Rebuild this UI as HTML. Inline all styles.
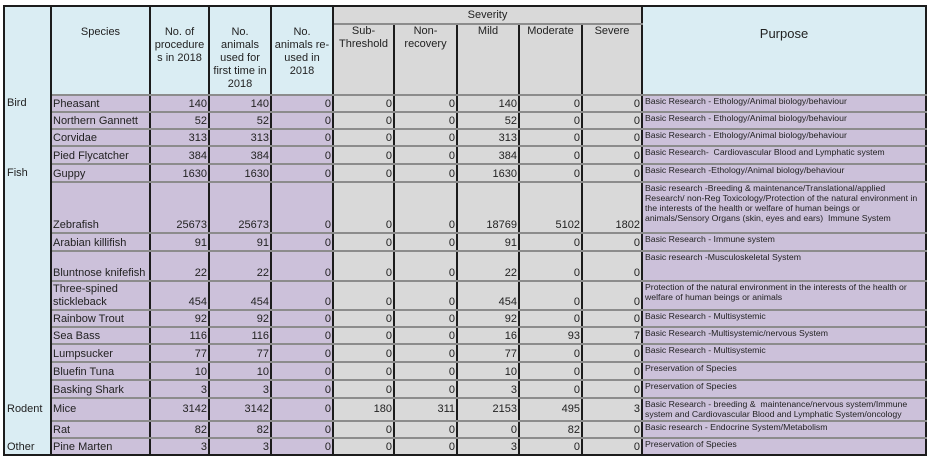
<!DOCTYPE html>
<html><head><meta charset="utf-8"><style>
html,body{margin:0;padding:0;background:#fff;width:930px;height:460px;overflow:hidden}
table{position:absolute;left:3px;top:5px;border-collapse:collapse;table-layout:fixed;font-family:"Liberation Sans",Arial,sans-serif;font-size:11px;color:#222}
td{padding:0 1px;overflow:hidden;white-space:nowrap;vertical-align:bottom;border-right:2px solid #1c1c1c;border-bottom:2px solid #8c8c8c;line-height:13px}
td.c{background:#daedf3;border-bottom:none;border-left:2px solid #1c1c1c;padding-left:2px}
td.p{background:#ccc1da}
td.g{background:#d9d9d9;text-align:right}
td.n{text-align:right}
td.u{background:#ccc1da;font-size:8.7px;line-height:10px;white-space:normal;vertical-align:top;padding-left:2px;border-left:1px solid #555;border-right:2px solid #1c1c1c}
td.h{background:#daedf3;text-align:center;vertical-align:top;white-space:normal;padding-top:19px}
td.sh{background:#d9d9d9;text-align:center;vertical-align:top;white-space:normal}
tr.top td{border-top:2px solid #1c1c1c}
tr.last td{border-bottom:2px solid #1c1c1c}
</style></head><body>
<table>
<colgroup><col style="width:47px"><col style="width:99px"><col style="width:59px"><col style="width:62px"><col style="width:62px"><col style="width:61px"><col style="width:63px"><col style="width:62px"><col style="width:63px"><col style="width:60px"><col style="width:284px"></colgroup>
<tr class="top" style="height:18px">
<td class="c" rowspan="2" style="border-top:2px solid #1c1c1c"></td>
<td class="h" rowspan="2" style="border-bottom:2px solid #8c8c8c">Species</td>
<td class="h" rowspan="2" style="border-bottom:2px solid #8c8c8c">No. of procedure s in 2018</td>
<td class="h" rowspan="2" style="border-bottom:2px solid #8c8c8c">No. animals used for first time in 2018</td>
<td class="h" rowspan="2" style="border-bottom:2px solid #8c8c8c">No. animals re-used in 2018</td>
<td class="sh" colspan="5" style="vertical-align:middle">Severity</td>
<td class="h" rowspan="2" style="font-size:13px;padding-top:20px;border-bottom:2px solid #8c8c8c">Purpose</td>
</tr>
<tr style="height:71px">
<td class="sh">Sub-<br>Threshold</td><td class="sh">Non-<br>recovery</td><td class="sh">Mild</td><td class="sh">Moderate</td><td class="sh">Severe</td>
</tr>
<tr style="height:17px"><td class="c" style="vertical-align:middle">Bird</td><td class="p">Pheasant</td><td class="p n">140</td><td class="p n">140</td><td class="p n">0</td><td class="g">0</td><td class="g">0</td><td class="g">140</td><td class="g">0</td><td class="g">0</td><td class="u">Basic Research - Ethology/Animal biology/behaviour</td></tr>
<tr style="height:17px"><td class="c"></td><td class="p">Northern Gannett</td><td class="p n">52</td><td class="p n">52</td><td class="p n">0</td><td class="g">0</td><td class="g">0</td><td class="g">52</td><td class="g">0</td><td class="g">0</td><td class="u">Basic Research - Ethology/Animal biology/behaviour</td></tr>
<tr style="height:17px"><td class="c"></td><td class="p">Corvidae</td><td class="p n">313</td><td class="p n">313</td><td class="p n">0</td><td class="g">0</td><td class="g">0</td><td class="g">313</td><td class="g">0</td><td class="g">0</td><td class="u">Basic Research - Ethology/Animal biology/behaviour</td></tr>
<tr style="height:18px"><td class="c"></td><td class="p">Pied Flycatcher</td><td class="p n">384</td><td class="p n">384</td><td class="p n">0</td><td class="g">0</td><td class="g">0</td><td class="g">384</td><td class="g">0</td><td class="g">0</td><td class="u">Basic Research-&nbsp; Cardiovascular Blood and Lymphatic system</td></tr>
<tr style="height:18px"><td class="c" style="vertical-align:middle">Fish</td><td class="p">Guppy</td><td class="p n">1630</td><td class="p n">1630</td><td class="p n">0</td><td class="g">0</td><td class="g">0</td><td class="g">1630</td><td class="g">0</td><td class="g">0</td><td class="u">Basic Research -Ethology/Animal biology/behaviour</td></tr>
<tr style="height:51px"><td class="c"></td><td class="p">Zebrafish</td><td class="p n">25673</td><td class="p n">25673</td><td class="p n">0</td><td class="g">0</td><td class="g">0</td><td class="g">18769</td><td class="g">5102</td><td class="g">1802</td><td class="u">Basic research -Breeding &amp; maintenance/Translational/applied Research/ non-Reg Toxicology/Protection of the natural environment in the interests of the health or welfare of human beings or animals/Sensory Organs (skin, eyes and ears)&nbsp; Immune System</td></tr>
<tr style="height:18px"><td class="c"></td><td class="p">Arabian killifish</td><td class="p n">91</td><td class="p n">91</td><td class="p n">0</td><td class="g">0</td><td class="g">0</td><td class="g">91</td><td class="g">0</td><td class="g">0</td><td class="u">Basic Research - Immune system</td></tr>
<tr style="height:30px"><td class="c"></td><td class="p">Bluntnose knifefish</td><td class="p n">22</td><td class="p n">22</td><td class="p n">0</td><td class="g">0</td><td class="g">0</td><td class="g">22</td><td class="g">0</td><td class="g">0</td><td class="u">Basic research -Musculoskeletal System</td></tr>
<tr style="height:29px"><td class="c"></td><td class="p" style="white-space:normal">Three-spined stickleback</td><td class="p n">454</td><td class="p n">454</td><td class="p n">0</td><td class="g">0</td><td class="g">0</td><td class="g">454</td><td class="g">0</td><td class="g">0</td><td class="u">Protection of the natural environment in the interests of the health or welfare of human beings or animals</td></tr>
<tr style="height:17px"><td class="c"></td><td class="p">Rainbow Trout</td><td class="p n">92</td><td class="p n">92</td><td class="p n">0</td><td class="g">0</td><td class="g">0</td><td class="g">92</td><td class="g">0</td><td class="g">0</td><td class="u">Basic Research - Multisystemic</td></tr>
<tr style="height:17px"><td class="c"></td><td class="p">Sea Bass</td><td class="p n">116</td><td class="p n">116</td><td class="p n">0</td><td class="g">0</td><td class="g">0</td><td class="g">16</td><td class="g">93</td><td class="g">7</td><td class="u">Basic Research -Multisystemic/nervous System</td></tr>
<tr style="height:18px"><td class="c"></td><td class="p">Lumpsucker</td><td class="p n">77</td><td class="p n">77</td><td class="p n">0</td><td class="g">0</td><td class="g">0</td><td class="g">77</td><td class="g">0</td><td class="g">0</td><td class="u">Basic Research - Multisystemic</td></tr>
<tr style="height:18px"><td class="c"></td><td class="p">Bluefin Tuna</td><td class="p n">10</td><td class="p n">10</td><td class="p n">0</td><td class="g">0</td><td class="g">0</td><td class="g">10</td><td class="g">0</td><td class="g">0</td><td class="u">Preservation of Species</td></tr>
<tr style="height:18px"><td class="c"></td><td class="p">Basking Shark</td><td class="p n">3</td><td class="p n">3</td><td class="p n">0</td><td class="g">0</td><td class="g">0</td><td class="g">3</td><td class="g">0</td><td class="g">0</td><td class="u">Preservation of Species</td></tr>
<tr style="height:23px"><td class="c" style="vertical-align:middle">Rodent</td><td class="p" style="vertical-align:middle">Mice</td><td class="p n" style="vertical-align:middle">3142</td><td class="p n" style="vertical-align:middle">3142</td><td class="p n" style="vertical-align:middle">0</td><td class="g" style="vertical-align:middle">180</td><td class="g" style="vertical-align:middle">311</td><td class="g" style="vertical-align:middle">2153</td><td class="g" style="vertical-align:middle">495</td><td class="g" style="vertical-align:middle">3</td><td class="u" style="height:21px">Basic Research - breeding &amp;&nbsp; maintenance/nervous system/Immune system and Cardiovascular Blood and Lymphatic System/oncology</td></tr>
<tr style="height:17px"><td class="c"></td><td class="p">Rat</td><td class="p n">82</td><td class="p n">82</td><td class="p n">0</td><td class="g">0</td><td class="g">0</td><td class="g">0</td><td class="g">82</td><td class="g">0</td><td class="u">Basic research - Endocrine System/Metabolism</td></tr>
<tr class="last" style="height:17px"><td class="c" style="border-bottom:2px solid #1c1c1c">Other</td><td class="p">Pine Marten</td><td class="p n">3</td><td class="p n">3</td><td class="p n">0</td><td class="g">0</td><td class="g">0</td><td class="g">3</td><td class="g">0</td><td class="g">0</td><td class="u">Preservation of Species</td></tr>
</table>
</body></html>
